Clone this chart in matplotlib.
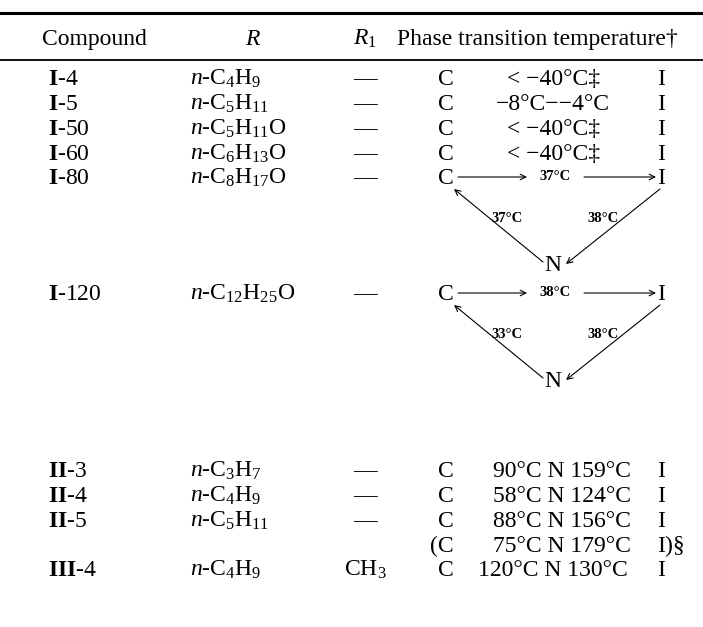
import matplotlib
matplotlib.use("Agg")
import matplotlib.pyplot as plt

plt.rcParams['font.family'] = ['Liberation Serif', 'DejaVu Serif']
plt.rcParams['mathtext.fontset'] = 'custom'
plt.rcParams['mathtext.rm'] = 'Liberation Serif'
plt.rcParams['mathtext.it'] = 'Liberation Serif:italic'
plt.rcParams['mathtext.bf'] = 'Liberation Serif:bold'

# datos de la tabla
headers = ['Compound', '$R$', '$R_1$', 'Phase transition temperature†']
compounds = [r'$\mathbf{I}$-4', r'$\mathbf{I}$-5', r'$\mathbf{I}$-50', r'$\mathbf{I}$-60',
             r'$\mathbf{I}$-80', r'$\mathbf{I}$-120', r'$\mathbf{II}$-3', r'$\mathbf{II}$-4',
             r'$\mathbf{II}$-5', '', r'$\mathbf{III}$-4']
r_groups = ['$n$-C$_4$H$_9$', '$n$-C$_5$H$_{11}$', '$n$-C$_5$H$_{11}$O', '$n$-C$_6$H$_{13}$O',
            '$n$-C$_8$H$_{17}$O', '$n$-C$_{12}$H$_{25}$O', '$n$-C$_3$H$_7$', '$n$-C$_4$H$_9$',
            '$n$-C$_5$H$_{11}$', '', '$n$-C$_4$H$_9$']
r1_groups = ['—', '—', '—', '—', '—', '—', '—', '—', '—', '', 'CH$_3$']
left_phase = ['C', 'C', 'C', 'C', 'C', 'C', 'C', 'C', 'C', '(C', 'C']
mid_phase = ['< −40°C‡', '−8°C−−4°C', '< −40°C‡', '< −40°C‡', None, None,
             '90°C N 159°C', '58°C N 124°C', '88°C N 156°C', '75°C N 179°C', '120°C N 130°C']
right_phase = ['I', 'I', 'I', 'I', 'I', 'I', 'I', 'I', 'I', 'I)§', 'I']
# triangulos (C->I, N->C, I->N)
tri_temps = {4: ('37°C', '37°C', '38°C'), 5: ('38°C', '33°C', '38°C')}

# posicion vertical de cada fila
row_y = [78, 103, 128, 153, 177, 293, 470, 495, 520, 545, 569]
mid_x = [554, 553, 554, 554, 0, 0, 562, 562, 562, 562, 553]

fig = plt.figure(figsize=(7.03, 6.27), dpi=100)
ax = fig.add_axes([0, 0, 1, 1])
ax.set_xlim(0, 703)
ax.set_ylim(627, 0)
ax.axis('off')

fs = 17
ax.plot([0, 703], [13, 13], color='black', lw=2.2)
ax.plot([0, 703], [60, 60], color='black', lw=1.3)

hy = 45
ax.text(94, hy, headers[0], ha='center', va='baseline', fontsize=fs)
ax.text(253, hy, headers[1], ha='center', va='baseline', fontsize=fs)
ax.text(365, hy, headers[2], ha='center', va='baseline', fontsize=fs)
ax.text(397, hy, headers[3], ha='left', va='baseline', fontsize=fs)

arr = dict(arrowstyle='->', color='black', lw=0.8, shrinkA=0, shrinkB=0)
for i, y in enumerate(row_y):
    b = y + 7
    ax.text(48, b, compounds[i], ha='left', va='baseline', fontsize=fs)
    ax.text(190, b, r_groups[i], ha='left', va='baseline', fontsize=fs)
    ax.text(365, b, r1_groups[i], ha='center', va='baseline', fontsize=fs)
    ax.text(454, b, left_phase[i], ha='right', va='baseline', fontsize=fs)
    ax.text(657, b, right_phase[i], ha='left', va='baseline', fontsize=fs)
    if mid_phase[i] is not None:
        ax.text(mid_x[i], b, mid_phase[i], ha='center', va='baseline', fontsize=fs)
    else:
        top, left, right = tri_temps[i]
        ny = y + 87
        ax.annotate('', xy=(527, y), xytext=(458, y), arrowprops=arr)
        ax.text(555, y, top, ha='center', va='center', fontsize=10.5, fontweight='bold')
        ax.annotate('', xy=(656, y), xytext=(584, y), arrowprops=arr)
        ax.text(553, ny + 7, 'N', ha='center', va='baseline', fontsize=fs)
        ax.annotate('', xy=(454, y + 12), xytext=(543, ny - 2), arrowprops=arr)
        ax.annotate('', xy=(566, ny), xytext=(660, y + 12), arrowprops=arr)
        ax.text(507, y + 42, left, ha='center', va='center', fontsize=10.5, fontweight='bold')
        ax.text(603, y + 42, right, ha='center', va='center', fontsize=10.5, fontweight='bold')

fig.savefig('out.png', dpi=100)
